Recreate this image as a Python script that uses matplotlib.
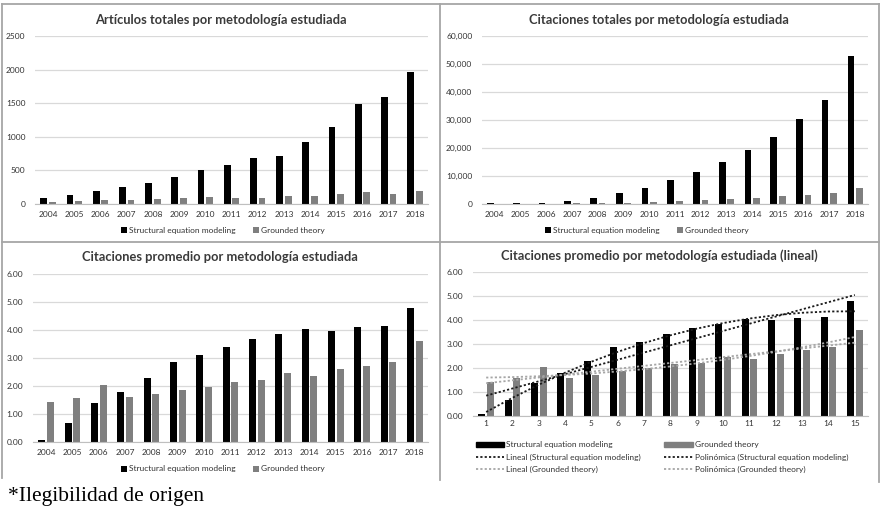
import numpy as np
import matplotlib.pyplot as plt
from matplotlib.lines import Line2D
from matplotlib.patches import Patch
from matplotlib.ticker import FuncFormatter

plt.rcParams["font.family"] = ["Lato", "DejaVu Sans"]

years = [str(y) for y in range(2004, 2019)]
periods = [str(i) for i in range(1, 16)]

# Artículos totales
art_sem = [90, 140, 190, 250, 315, 400, 500, 575, 680, 720, 925, 1145, 1490, 1590, 1960]
art_gt = [25, 40, 55, 55, 70, 90, 100, 90, 90, 125, 125, 150, 175, 150, 190]

# Citaciones totales
cit_sem = [200, 200, 500, 1000, 2300, 4000, 5800, 8400, 11600, 14900, 19300, 23800, 30400, 37300, 52800]
cit_gt = [100, 100, 150, 200, 400, 400, 600, 900, 1300, 1800, 2100, 2700, 3300, 3900, 5600]

# Citaciones promedio
avg_sem = [0.08, 0.67, 1.38, 1.80, 2.30, 2.87, 3.10, 3.40, 3.67, 3.85, 4.05, 3.98, 4.10, 4.13, 4.80]
avg_gt = [1.43, 1.57, 2.05, 1.60, 1.70, 1.86, 1.98, 2.15, 2.20, 2.45, 2.37, 2.60, 2.73, 2.87, 3.60]

SEM_C = "#000000"
GT_C = "#7f7f7f"
GRID_C = "#d9d9d9"
TXT_C = "#333333"
BORDER_C = "#a6a6a6"
FS = 6

W, H = 884, 512
fig = plt.figure(figsize=(W / 100, H / 100), dpi=100)


def px_axes(left, top, right, bottom):
    return fig.add_axes([left / W, 1 - bottom / H, (right - left) / W, (bottom - top) / H])


def style(ax, ymax, step, fmt, xpad):
    ax.set_ylim(0, ymax)
    ax.set_yticks(np.arange(0, ymax + step / 2, step))
    ax.yaxis.set_major_formatter(FuncFormatter(fmt))
    ax.grid(axis="y", color=GRID_C, linewidth=0.9)
    ax.set_axisbelow(True)
    for s in ["top", "right", "left"]:
        ax.spines[s].set_visible(False)
    ax.spines["bottom"].set_color("#bfbfbf")
    ax.tick_params(axis="both", length=0, labelsize=FS, colors=TXT_C)
    ax.tick_params(axis="y", pad=7)
    ax.tick_params(axis="x", pad=xpad)
    ax.set_xlim(-0.5, 14.5)


def bars(ax, labels, a, b):
    x = np.arange(len(labels))
    ax.bar(x - 0.165, a, width=0.26, color=SEM_C, label="Structural equation modeling")
    ax.bar(x + 0.165, b, width=0.26, color=GT_C, label="Grounded theory")
    ax.set_xticks(x)
    ax.set_xticklabels(labels)
    return x


def small_legend(ax, cx, cy):
    ax.legend(loc="center", bbox_to_anchor=(cx / W, 1 - cy / H), bbox_transform=fig.transFigure,
              ncol=2, frameon=False, fontsize=FS, handlelength=0.7, handleheight=0.7,
              handletextpad=0.3, columnspacing=2.0, labelcolor=TXT_C)


def title(cx, cy, s):
    fig.text(cx / W, 1 - cy / H, s, ha="center", va="center", fontsize=9.3,
             fontweight="bold", color="#3a3a3a")


# Top-left
ax1 = px_axes(35, 36, 428, 204)
bars(ax1, years, art_sem, art_gt)
style(ax1, 2500, 500, lambda v, p: f"{v:.0f}", 5)
small_legend(ax1, 223, 230)
title(221, 20, "Artículos totales por metodología estudiada")

# Top-right
ax2 = px_axes(482, 36, 868, 204)
bars(ax2, years, cit_sem, cit_gt)
style(ax2, 60000, 10000, lambda v, p: f"{v:,.0f}", 5)
small_legend(ax2, 647, 230)
title(659, 20, "Citaciones totales por metodología estudiada")

# Bottom-left
ax3 = px_axes(33, 274, 428, 442)
bars(ax3, years, avg_sem, avg_gt)
style(ax3, 6, 1, lambda v, p: f"{v:.2f}", 5)
small_legend(ax3, 223, 469)
title(220, 257, "Citaciones promedio por metodología estudiada")

# Bottom-right with trendlines
ax4 = px_axes(473, 272, 868, 416)
x = bars(ax4, periods, avg_sem, avg_gt)
style(ax4, 6, 1, lambda v, p: f"{v:.2f}", 3)
t = np.arange(1, 16)
dots = (0, (1.2, 1.2))
lin_sem = np.polyval(np.polyfit(t, avg_sem, 1), t)
pol_sem = np.polyval(np.polyfit(t, avg_sem, 2), t)
lin_gt = np.polyval(np.polyfit(t, avg_gt, 1), t)
pol_gt = np.polyval(np.polyfit(t, avg_gt, 2), t)
DARK_T = "#1a1a1a"
LIGHT_T = "#a6a6a6"
ax4.plot(x, lin_sem, color=DARK_T, linestyle=dots, linewidth=1.3)
ax4.plot(x, pol_sem, color=DARK_T, linestyle=dots, linewidth=1.3)
ax4.plot(x, lin_gt, color=LIGHT_T, linestyle=dots, linewidth=1.3)
ax4.plot(x, pol_gt, color=LIGHT_T, linestyle=dots, linewidth=1.3)
handles = [
    Patch(color=SEM_C), Line2D([], [], color=DARK_T, linestyle=dots, linewidth=1.3),
    Line2D([], [], color=LIGHT_T, linestyle=dots, linewidth=1.3),
    Patch(color=GT_C), Line2D([], [], color=DARK_T, linestyle=dots, linewidth=1.3),
    Line2D([], [], color=LIGHT_T, linestyle=dots, linewidth=1.3),
]
labels = [
    "Structural equation modeling", "Lineal (Structural equation modeling)", "Lineal (Grounded theory)",
    "Grounded theory", "Polinómica (Structural equation modeling)", "Polinómica (Grounded theory)",
]
ax4.legend(handles, labels, loc="upper left", bbox_to_anchor=(468 / W, 1 - 434 / H),
           bbox_transform=fig.transFigure, ncol=2, frameon=False, fontsize=FS,
           handlelength=3.4, handleheight=0.5, handletextpad=0.3, columnspacing=2.8,
           labelspacing=0.6, labelcolor=TXT_C)
title(659, 256, "Citaciones promedio por metodología estudiada (lineal)")


# Panel borders
def hline(y, x0, x1):
    fig.add_artist(Line2D([x0 / W, x1 / W], [1 - y / H, 1 - y / H], color=BORDER_C, linewidth=1.3))


def vline(x0, y0, y1):
    fig.add_artist(Line2D([x0 / W, x0 / W], [1 - y0 / H, 1 - y1 / H], color=BORDER_C, linewidth=1.3))


hline(4, 2, 879)
hline(242, 2, 879)
vline(2, 4, 478)
vline(440, 4, 480)
vline(879, 4, 482)

fig.text(8 / W, 1 - 496 / H, "*Ilegibilidad de origen", ha="left", va="center",
         fontsize=15.5, family=["Liberation Serif", "DejaVu Serif"], color="#000000")

fig.savefig("out.png", dpi=100)
